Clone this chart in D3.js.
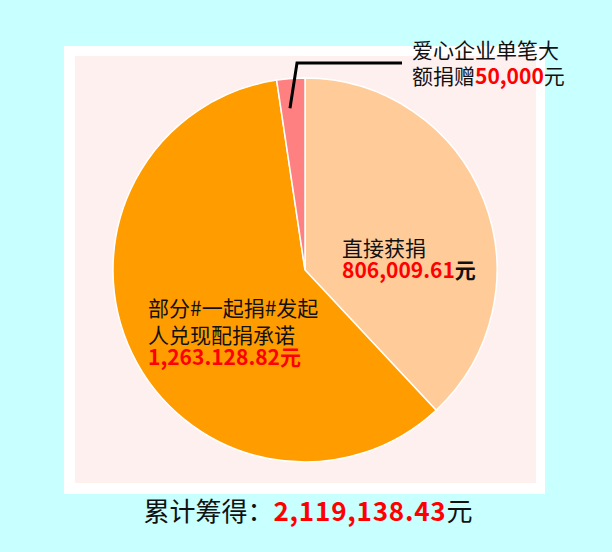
<!DOCTYPE html>
<html><head><meta charset="utf-8">
<script src="https://cdn.jsdelivr.net/npm/d3@7"></script>
<style>
html,body{margin:0;padding:0;background:#c8ffff;}
svg{display:block;font-family:"Noto Sans CJK SC","Noto Sans",sans-serif;}
</style></head>
<body>
<script>
// ---- data ----
const categories = ["直接获捐", "部分#一起捐#发起人兑现配捐承诺", "爱心企业单笔大额捐赠"];
const values = [806009.61, 1263128.82, 50000];
const valueLabels = ["806,009.61", "1,263.128.82", "50,000"];
const colors = ["#ffcc99", "#ff9c00", "#ff8080"];
const totalTitle = "累计筹得：";
const totalLabel = "2,119,138.43";
const unit = "元";

// ---- layout ----
const W = 612, H = 552;
const cx = 305, cy = 270, R = 192;

const svg = d3.select("body").append("svg").attr("width", W).attr("height", H);
svg.append("rect").attr("width", W).attr("height", H).attr("fill", "#c8ffff");
svg.append("rect").attr("x", 64).attr("y", 46).attr("width", 481).attr("height", 448).attr("fill", "#ffffff");
svg.append("rect").attr("x", 75).attr("y", 56).attr("width", 461).attr("height", 427).attr("fill", "#fff0f0");

const pie = d3.pie().sort(null).value(d => d)(values);
const arc = d3.arc().innerRadius(0).outerRadius(R);
const g = svg.append("g").attr("transform", `translate(${cx},${cy})`);
g.selectAll("path").data(pie).join("path")
  .attr("d", arc)
  .attr("fill", (d, i) => colors[i])
  .attr("stroke", "#ffffff").attr("stroke-width", 1.5);

// leader line for small slice
const small = pie[2];
const mid = (small.startAngle + small.endAngle) / 2;
const p0 = [cx + Math.sin(mid) * R * 0.845 - 3, cy - Math.cos(mid) * R * 0.845];
const p1 = [cx - 8, 63];
const p2 = [402, 63];
svg.append("path").attr("d", d3.line()([p0, p1, p2]))
  .attr("fill", "none").attr("stroke", "#000").attr("stroke-width", 3);

const txt = "#111";
function label(x, lines) {
  lines.forEach(line => {
    const t = svg.append("text").attr("x", x).attr("y", line.y).attr("font-size", line.size || 21);
    line.parts.forEach(p => {
      t.append("tspan").text(p.t).attr("fill", p.c || txt).attr("font-weight", p.b ? "bold" : "normal");
    });
  });
}

// peach label
label(342, [
  {y: 256, parts: [{t: categories[0]}]},
  {y: 278, parts: [{t: valueLabels[0], c: "#ff0000", b: true}, {t: unit, b: true}]}
]);
// orange label
label(148, [
  {y: 316, parts: [{t: categories[1].slice(0, 9)}]},
  {y: 343, parts: [{t: categories[1].slice(9)}]},
  {y: 365, parts: [{t: valueLabels[1], c: "#ff0000", b: true}, {t: unit, c: "#ff0000", b: true}]}
]);
// small slice label
label(412, [
  {y: 58, parts: [{t: categories[2].slice(0, 7)}]},
  {y: 84, parts: [{t: categories[2].slice(7)}, {t: valueLabels[2], c: "#ff0000", b: true}, {t: unit}]}
]);

// total
const tt = svg.append("text").attr("x", 308).attr("y", 521).attr("text-anchor", "middle").attr("font-size", 26);
tt.append("tspan").text(totalTitle).attr("fill", txt);
tt.append("tspan").text(totalLabel).attr("fill", "#ff0000").attr("font-weight", "bold").attr("letter-spacing", 0.8);
tt.append("tspan").text(unit).attr("fill", txt);
</script>
</body></html>
